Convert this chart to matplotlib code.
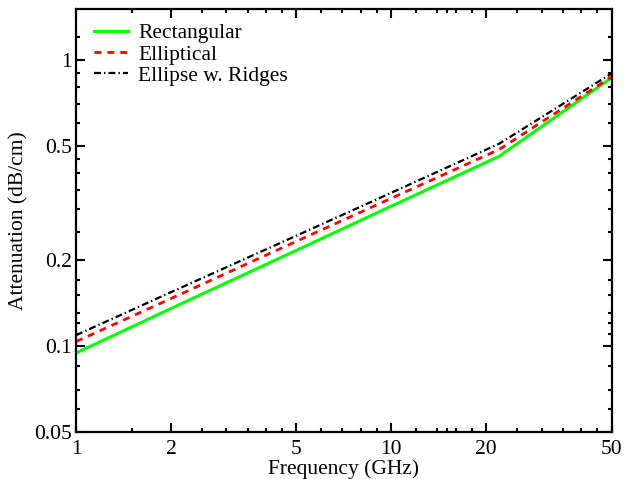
import matplotlib
matplotlib.use("Agg")
import matplotlib.pyplot as plt
from matplotlib.ticker import FixedLocator, FixedFormatter, NullFormatter

plt.rcParams['font.family'] = ['Liberation Serif', 'DejaVu Serif']
plt.rcParams['lines.scale_dashes'] = False

# Attenuation vs frequency
freq = [1, 2, 5, 10, 22, 50]
rect = [0.0944, 0.135, 0.2155, 0.3075, 0.459, 0.863]
ellip = [0.1035, 0.1463, 0.2318, 0.3276, 0.485, 0.870]
ridges = [0.109, 0.154, 0.2425, 0.3425, 0.508, 0.894]

x_major = [1, 2, 5, 10, 20, 50]
x_minor = [1.5, 2.5, 3, 3.5, 4, 4.5, 6, 7, 8, 9, 12, 14, 15, 16, 18,
           25, 30, 35, 40, 45]
y_major = [0.05, 0.1, 0.2, 0.5, 1]
y_minor = [0.06, 0.07, 0.085, 0.11, 0.12, 0.13, 0.15, 0.17, 0.25, 0.3,
           0.35, 0.4, 0.45, 0.6, 0.7, 0.8, 0.9, 1.2]

fig = plt.figure(figsize=(6.24, 4.79), dpi=100)
ax = fig.add_axes([0.122, 0.098, 0.858, 0.883])

ax.plot(freq, rect, color=(0, 1, 0), lw=2.2, label='Rectangular')
ax.plot(freq, ellip, color='red', lw=2.0, dashes=(5, 4.3), label='Elliptical')
ax.plot(freq, ridges, color='black', lw=1.6, dashes=(5, 2.2, 1, 2.2),
        label='Ellipse w. Ridges')

ax.set_xscale('log')
ax.set_yscale('log')
ax.set_xlim(1, 50)
ax.set_ylim(0.05, 1.5)

ax.xaxis.set_major_locator(FixedLocator(x_major))
ax.xaxis.set_major_formatter(FixedFormatter([str(v) for v in x_major]))
ax.xaxis.set_minor_locator(FixedLocator(x_minor))
ax.xaxis.set_minor_formatter(NullFormatter())
ax.yaxis.set_major_locator(FixedLocator(y_major))
ax.yaxis.set_major_formatter(FixedFormatter(['0.05', '0.1', '0.2', '0.5', '1']))
ax.yaxis.set_minor_locator(FixedLocator(y_minor))
ax.yaxis.set_minor_formatter(NullFormatter())

ax.tick_params(which='both', direction='in', top=True, right=True,
               width=1.5, labelsize=15.5)
ax.tick_params(which='major', length=6.5)
ax.tick_params(which='minor', length=3.2)
ax.tick_params(axis='x', which='major', pad=6)
ax.tick_params(axis='y', which='major', pad=3)
for s in ax.spines.values():
    s.set_linewidth(1.6)

ax.set_xlabel('Frequency (GHz)', fontsize=15.5, labelpad=0)
ax.set_ylabel('Attenuation (dB/cm)', fontsize=15.5, labelpad=4)

ax.legend(loc='upper left', bbox_to_anchor=(0.005, 1.002), frameon=False,
          fontsize=15.5, handlelength=1.6, handletextpad=0.45,
          labelspacing=0.05, borderaxespad=0.3)

fig.savefig('out.png', dpi=100)
